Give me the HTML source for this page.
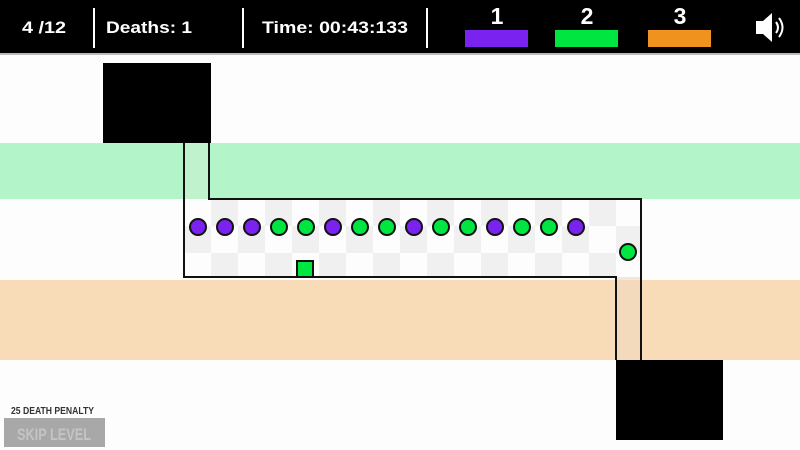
<!DOCTYPE html>
<html><head><style>
html,body{margin:0;padding:0;width:800px;height:450px;overflow:hidden;background:#fdfdfd}
svg{display:block}
text{font-family:"Liberation Sans",sans-serif}
</style></head><body>
<svg width="800" height="450" viewBox="0 0 800 450" xmlns="http://www.w3.org/2000/svg">
<defs>
<pattern id="chk" x="184" y="199" width="54" height="54" patternUnits="userSpaceOnUse">
<rect width="54" height="54" fill="#fdfdfd"/>
<rect x="27" y="0" width="27" height="27" fill="#f0f0f0"/>
<rect x="0" y="27" width="27" height="27" fill="#f0f0f0"/>
</pattern>
</defs>
<rect x="0" y="53" width="800" height="397" fill="#fdfdfd"/>
<rect x="0" y="143" width="800" height="56" fill="#b3f5c8"/>
<rect x="0" y="280" width="800" height="80" fill="#f8dcb8"/>
<rect x="184" y="199" width="457" height="78" fill="url(#chk)"/>
<rect x="616" y="277" width="25" height="83" fill="#f0d8c0" opacity="0.6"/>
<rect x="184" y="143" width="25" height="56" fill="#c8f0d0" opacity="0.6"/>
<path d="M184 143 L184 277 L616 277 L616 360 M209 143 L209 199 L641 199 L641 360" fill="none" stroke="#111" stroke-width="2"/>
<rect x="103" y="63" width="108" height="80" fill="#000"/>
<rect x="616" y="360" width="107" height="80" fill="#000"/>
<g stroke="#111" stroke-width="2">
<circle cx="198" cy="227" r="8" fill="#7a22f0"/>
<circle cx="225" cy="227" r="8" fill="#7a22f0"/>
<circle cx="252" cy="227" r="8" fill="#7a22f0"/>
<circle cx="279" cy="227" r="8" fill="#00e640"/>
<circle cx="306" cy="227" r="8" fill="#00e640"/>
<circle cx="333" cy="227" r="8" fill="#7a22f0"/>
<circle cx="360" cy="227" r="8" fill="#00e640"/>
<circle cx="387" cy="227" r="8" fill="#00e640"/>
<circle cx="414" cy="227" r="8" fill="#7a22f0"/>
<circle cx="441" cy="227" r="8" fill="#00e640"/>
<circle cx="468" cy="227" r="8" fill="#00e640"/>
<circle cx="495" cy="227" r="8" fill="#7a22f0"/>
<circle cx="522" cy="227" r="8" fill="#00e640"/>
<circle cx="549" cy="227" r="8" fill="#00e640"/>
<circle cx="576" cy="227" r="8" fill="#7a22f0"/>
<circle cx="628" cy="252" r="8" fill="#00e640"/>
<rect x="297" y="261" width="16" height="16" fill="#00e640"/>
</g>
<rect x="0" y="0" width="800" height="53" fill="#000"/>
<rect x="0" y="53" width="800" height="2" fill="#bbb"/>
<g fill="#fff">
<rect x="93" y="8" width="2" height="40"/>
<rect x="242" y="8" width="2" height="40"/>
<rect x="426" y="8" width="2" height="40"/>
<text x="22" y="33" font-size="17" font-weight="bold" textLength="44" lengthAdjust="spacingAndGlyphs">4 /12</text>
<text x="106" y="33" font-size="17" font-weight="bold" textLength="86" lengthAdjust="spacingAndGlyphs">Deaths: 1</text>
<text x="262" y="33" font-size="17" font-weight="bold" textLength="146" lengthAdjust="spacingAndGlyphs">Time: 00:43:133</text>
<text x="497" y="24" font-size="23" font-weight="bold" text-anchor="middle">1</text>
<text x="587" y="24" font-size="23" font-weight="bold" text-anchor="middle">2</text>
<text x="680" y="24" font-size="23" font-weight="bold" text-anchor="middle">3</text>
<path d="M756 21 L763 21 L772 13 L772 42 L763 34 L756 34 Z"/>
<path d="M776 22 Q780 27.5 776 33" stroke="#fff" stroke-width="2" fill="none"/>
<path d="M779 18 Q786 27.5 779 37" stroke="#fff" stroke-width="2" fill="none"/>
</g>
<rect x="465" y="30" width="63" height="17" fill="#7a22f0"/>
<rect x="555" y="30" width="63" height="17" fill="#00e640"/>
<rect x="648" y="30" width="63" height="17" fill="#f0921e"/>
<text x="11" y="414" font-size="10" font-weight="bold" fill="#333" textLength="83" lengthAdjust="spacingAndGlyphs">25 DEATH PENALTY</text>
<rect x="4" y="418" width="101" height="29" fill="#a8a8a8"/>
<text x="54" y="440" font-size="17" font-weight="bold" fill="#c4c4c4" text-anchor="middle" textLength="74" lengthAdjust="spacingAndGlyphs">SKIP LEVEL</text>
</svg>
</body></html>
